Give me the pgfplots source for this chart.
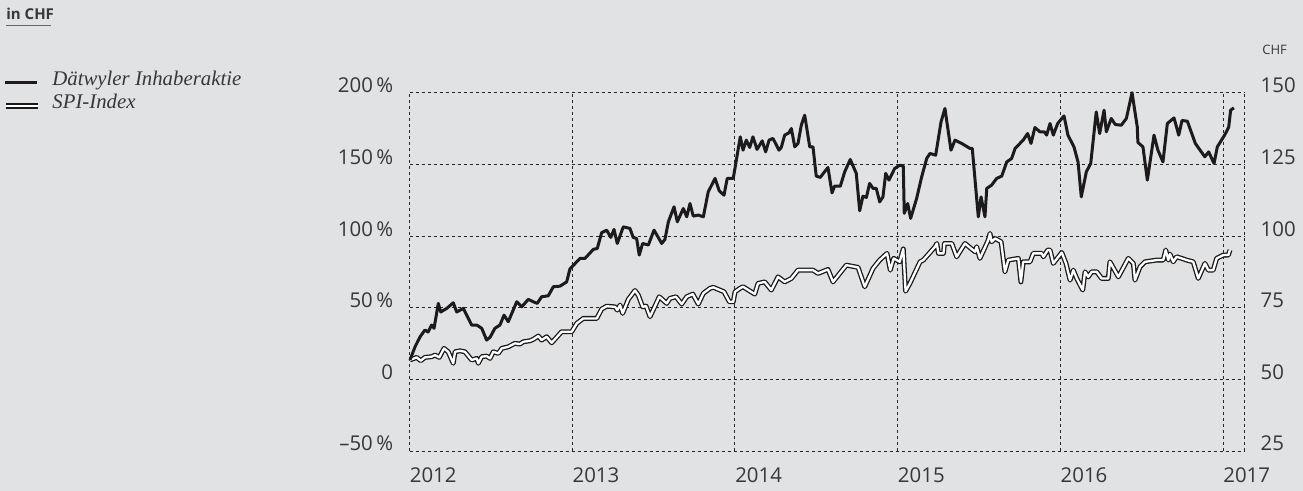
\documentclass[border=0pt]{standalone}
\usepackage{fontspec}
\setmainfont{Open Sans}
\newfontfamily\legendfont{Liberation Serif}
\usepackage{pgfplots}
\pgfplotsset{compat=1.18}
\usepackage{pgfplotstable}
\definecolor{bg}{RGB}{225,226,228}
\definecolor{txt}{RGB}{55,55,55}
\definecolor{stock}{RGB}{28,26,27}

\pgfplotstableread{
x y
2012.003 13.5
2012.034 22.7
2012.065 29.7
2012.095 34.4
2012.114 33.0
2012.136 37.9
2012.151 35.6
2012.177 53.0
2012.192 47.0
2012.229 49.5
2012.269 53.4
2012.290 47.0
2012.331 49.5
2012.382 37.9
2012.413 37.9
2012.444 35.6
2012.474 27.4
2012.495 29.3
2012.525 35.6
2012.556 37.9
2012.581 44.8
2012.607 40.2
2012.659 54.1
2012.690 50.6
2012.730 55.8
2012.761 54.1
2012.785 53.0
2012.812 57.6
2012.853 58.3
2012.884 64.6
2012.925 65.0
2012.966 68.0
2012.986 77.0
2013.048 84.4
2013.079 84.4
2013.130 90.7
2013.154 91.3
2013.181 102.3
2013.212 104.1
2013.237 99.0
2013.257 104.6
2013.277 94.8
2013.314 106.4
2013.355 105.3
2013.375 99.0
2013.396 98.3
2013.412 86.7
2013.433 94.8
2013.468 93.7
2013.503 104.1
2013.529 99.0
2013.550 94.8
2013.570 97.6
2013.591 109.9
2013.626 120.4
2013.646 109.9
2013.683 119.2
2013.704 113.4
2013.724 122.7
2013.744 113.9
2013.775 114.6
2013.806 113.4
2013.836 130.8
2013.878 140.2
2013.904 131.5
2013.933 128.5
2013.953 140.2
2013.990 140.2
2014.033 169.2
2014.050 159.9
2014.070 166.9
2014.091 161.8
2014.111 169.2
2014.136 160.4
2014.168 166.4
2014.189 158.7
2014.210 166.9
2014.234 168.1
2014.271 159.9
2014.285 161.8
2014.306 170.4
2014.332 172.0
2014.347 175.0
2014.368 162.2
2014.388 164.6
2014.408 177.3
2014.429 184.3
2014.460 162.2
2014.480 162.2
2014.500 141.8
2014.525 140.9
2014.546 144.1
2014.572 147.8
2014.597 130.1
2014.613 134.8
2014.648 134.8
2014.675 144.8
2014.709 153.4
2014.746 143.7
2014.767 117.6
2014.787 127.8
2014.808 126.9
2014.828 136.7
2014.849 133.2
2014.869 133.2
2014.890 123.8
2014.910 127.3
2014.927 143.7
2014.947 139.0
2014.982 147.1
2015.013 149.4
2015.035 148.7
2015.041 115.8
2015.062 122.7
2015.080 112.3
2015.117 126.2
2015.148 141.3
2015.179 154.1
2015.199 157.6
2015.234 156.4
2015.267 179.6
2015.291 189.0
2015.328 159.9
2015.353 166.9
2015.394 164.6
2015.445 161.1
2015.459 161.1
2015.496 113.4
2015.513 127.3
2015.537 113.4
2015.548 133.2
2015.578 135.5
2015.609 140.2
2015.640 141.8
2015.671 151.7
2015.701 154.1
2015.722 161.1
2015.752 164.6
2015.772 166.9
2015.799 171.5
2015.820 164.6
2015.844 175.7
2015.875 172.7
2015.902 172.7
2015.916 170.4
2015.937 178.5
2015.957 170.4
2015.984 178.5
2016.009 182.0
2016.023 183.8
2016.047 170.4
2016.084 162.2
2016.109 151.7
2016.129 127.3
2016.160 144.8
2016.187 150.6
2016.221 186.6
2016.242 171.5
2016.269 187.8
2016.283 172.7
2016.313 182.0
2016.338 177.8
2016.375 177.3
2016.406 182.0
2016.441 200.0
2016.473 176.2
2016.477 165.3
2016.508 162.2
2016.535 139.0
2016.576 170.4
2016.600 159.9
2016.631 151.7
2016.658 178.5
2016.699 182.4
2016.728 170.4
2016.748 180.6
2016.781 180.1
2016.830 164.6
2016.888 155.3
2016.912 158.7
2016.945 150.6
2016.965 162.2
2017.010 170.4
2017.035 175.9
2017.047 187.8
2017.067 189.4
}\daet

\pgfplotstableread{
x y
2012.003 13.5
2012.044 15.3
2012.069 13.0
2012.095 15.3
2012.136 15.8
2012.157 16.9
2012.183 15.3
2012.212 21.6
2012.238 19.2
2012.269 11.2
2012.280 19.2
2012.310 19.9
2012.341 19.2
2012.382 13.5
2012.413 14.6
2012.423 11.2
2012.444 15.8
2012.474 16.2
2012.495 14.6
2012.515 19.2
2012.546 18.1
2012.567 21.6
2012.607 22.7
2012.648 25.1
2012.679 24.6
2012.699 26.2
2012.741 26.9
2012.761 27.9
2012.792 30.2
2012.812 27.4
2012.843 29.7
2012.874 25.5
2012.935 33.2
2012.997 33.2
2013.028 39.0
2013.068 42.5
2013.151 42.5
2013.181 49.0
2013.212 51.0
2013.263 50.6
2013.277 48.3
2013.294 51.8
2013.310 46.0
2013.345 55.8
2013.386 62.0
2013.406 58.8
2013.433 50.6
2013.454 51.1
2013.478 43.7
2013.509 51.1
2013.535 57.6
2013.581 53.0
2013.601 56.5
2013.638 57.6
2013.673 52.5
2013.704 57.6
2013.741 59.5
2013.775 52.5
2013.806 60.0
2013.847 63.5
2013.867 64.2
2013.933 61.1
2013.966 54.1
2013.990 54.1
2014.001 61.1
2014.031 63.5
2014.050 64.6
2014.122 59.5
2014.142 66.9
2014.183 68.0
2014.224 62.3
2014.265 71.5
2014.306 68.0
2014.347 70.4
2014.388 76.2
2014.480 76.2
2014.511 73.9
2014.572 76.7
2014.603 68.0
2014.685 79.7
2014.757 78.1
2014.798 64.6
2014.849 77.4
2014.890 83.2
2014.935 87.9
2014.955 76.2
2014.976 84.4
2015.013 82.0
2015.035 91.0
2015.049 61.5
2015.076 67.0
2015.138 82.0
2015.158 83.2
2015.230 92.5
2015.241 94.8
2015.251 87.9
2015.282 87.9
2015.288 94.8
2015.333 94.8
2015.363 85.5
2015.414 94.8
2015.476 89.0
2015.486 92.5
2015.506 84.4
2015.557 97.1
2015.568 101.8
2015.578 96.0
2015.599 98.3
2015.636 96.0
2015.660 75.0
2015.680 83.2
2015.742 84.4
2015.758 68.0
2015.772 82.0
2015.814 82.0
2015.834 87.9
2015.886 87.9
2015.896 85.5
2015.923 90.2
2015.937 90.2
2015.957 80.9
2016.009 88.5
2016.035 80.9
2016.060 69.2
2016.080 76.2
2016.101 70.4
2016.138 62.3
2016.152 75.0
2016.172 71.5
2016.193 75.0
2016.224 75.0
2016.254 70.4
2016.295 70.4
2016.305 82.0
2016.357 71.5
2016.418 84.4
2016.449 80.9
2016.459 69.2
2016.490 78.5
2016.521 82.0
2016.592 83.2
2016.633 83.2
2016.648 90.2
2016.664 83.2
2016.674 87.4
2016.694 82.0
2016.715 85.5
2016.746 84.4
2016.777 83.2
2016.817 82.0
2016.848 70.4
2016.889 80.9
2016.910 76.2
2016.940 76.2
2016.961 84.4
2017.002 86.7
2017.033 86.7
2017.043 90.2
}\spi

\begin{document}
\begin{tikzpicture}
\fill[bg] (0,0) rectangle (651.5pt,245.5pt);
\begin{axis}[
  at={(204.75pt,20pt)}, anchor=south west,
  scale only axis, width=417.4pt, height=179.15pt,
  xmin=2012, xmax=2017.131, ymin=-50, ymax=200,
  xtick={2012,2013,2014,2015,2016,2017},
  xticklabels={2012,2013,2014,2015,2016,2017},
  extra x ticks={2017.131}, extra x tick labels={{}},
  ytick={-50,0,50,100,150,200},
  yticklabels={–50\,\%,0,50\,\%,100\,\%,150\,\%,200\,\%},
  axis line style={draw=none},
  major tick length=0pt,
  grid=major,
  major grid style={dash pattern=on 1.6pt off 1.4pt, line width=0.4pt, color=black!85},
  tick label style={font=\fontsize{10.2}{12}\selectfont, text=txt},
  xticklabel style={anchor=base west, inner xsep=0pt, yshift=-16pt},
  yticklabel style={anchor=base east, inner xsep=0pt, xshift=-8pt},
  clip=false,
]
\addplot[draw=black!90, line width=0.65pt, double=white, double distance=1.15pt, line join=round] table[x=x,y=y] {\spi};
\addplot[draw=stock, line width=1.5pt, line join=round] table[x=x,y=y] {\daet};
\end{axis}
\begin{axis}[
  at={(204.75pt,20pt)}, anchor=south west,
  scale only axis, width=417.4pt, height=179.15pt,
  xmin=2012, xmax=2017.131, ymin=25, ymax=150,
  axis x line=none, axis y line*=right, axis line style={draw=none},
  ytick={25,50,75,100,125,150},
  yticklabels={25,50,75,100,125,150},
  major tick length=0pt,
  tick label style={font=\fontsize{10.2}{12}\selectfont, text=txt},
  yticklabel style={anchor=base west, inner xsep=0pt, xshift=8pt},
]
\end{axis}
% header
\node[anchor=base west, inner sep=0pt, font=\bfseries\fontsize{7.5}{9}\selectfont, text=txt] at (3pt,235.5pt) {in CHF};
\draw[line width=0.5pt, color=black!60] (3pt,232.5pt) -- (25.5pt,232.5pt);
\node[anchor=base west, inner sep=0pt, font=\fontsize{6.5}{8}\selectfont, text=txt] at (631pt,218pt) {CHF};
% legend
\draw[draw=stock, line width=1.5pt] (2.5pt,204.2pt) -- (18.5pt,204.2pt);
\node[anchor=base west, inner sep=0pt, font=\legendfont\itshape\fontsize{10.4}{12}\selectfont, text=txt] at (26pt,202.5pt) {Dätwyler Inhaberaktie};
\draw[draw=black!90, line width=0.65pt, double=white, double distance=1.3pt] (3pt,192.5pt) -- (19pt,192.5pt);
\node[anchor=base west, inner sep=0pt, font=\legendfont\itshape\fontsize{10.4}{12}\selectfont, text=txt] at (26pt,191pt) {SPI-Index};
\pgfresetboundingbox
\useasboundingbox (0,0) rectangle (651.5pt,245.5pt);
\end{tikzpicture}
\end{document}
